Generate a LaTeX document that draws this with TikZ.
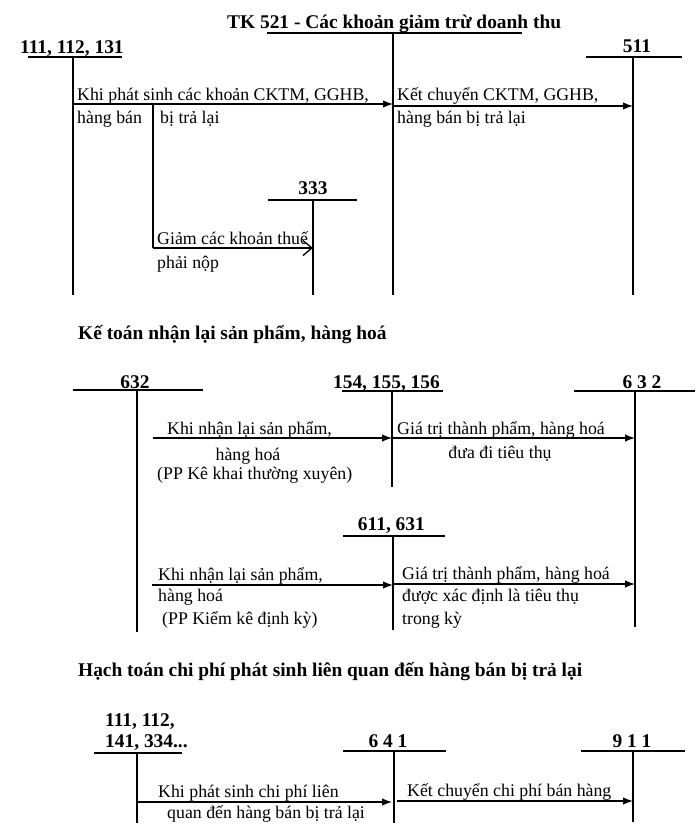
\documentclass[tikz,border=0pt]{standalone}
\usepackage{fontspec}
\setmainfont{Liberation Serif}
\usetikzlibrary{arrows.meta}
\begin{document}
\begin{tikzpicture}[x=1pt,y=-1pt,
  txt/.style={inner sep=0pt,font=\fontsize{17.8}{20}\selectfont},
  lbl/.style={inner sep=0pt,font=\fontsize{19.4}{22}\selectfont\bfseries},
  tline/.style={line width=1.4pt},
  arr/.style={line width=1.3pt,-{Latex[length=10pt,width=7.5pt]}},
  oarr/.style={line width=1.3pt,-{Straight Barb[length=9pt,width=15pt,line width=1.3pt]}}]
\useasboundingbox[fill=white] (0,0) rectangle (698,838);

% ---------- Section 1 ----------
\node[lbl,anchor=base west] (title1) at (227,28) {TK 521 - Các khoản giảm trừ doanh thu};
\node[lbl,anchor=base west] (l111) at (20,53) {111, 112, 131};
\node[lbl,anchor=base] (l511) at (637,52) {511};
\node[lbl,anchor=base] (l333) at (313,194) {333};

\coordinate (a111L) at (28,57);  \coordinate (a111R) at (122,57);
\coordinate (a111T) at (73,57);  \coordinate (a111B) at (73,295);
\coordinate (a521L) at (267,33); \coordinate (a521R) at (522,33);
\coordinate (a521T) at (393,33); \coordinate (a521B) at (393,295);
\coordinate (a511L) at (586,57); \coordinate (a511R) at (682,57);
\coordinate (a511T) at (633,57); \coordinate (a511B) at (633,295);
\coordinate (a333L) at (268,200); \coordinate (a333R) at (357,200);
\coordinate (a333T) at (313,200); \coordinate (a333B) at (313,295);
\draw[tline] (a111L) -- (a111R) (a111T) -- (a111B);
\draw[tline] (a521L) -- (a521R) (a521T) -- (a521B);
\draw[tline] (a511L) -- (a511R) (a511T) -- (a511B);
\draw[tline] (a333L) -- (a333R) (a333T) -- (a333B);

\coordinate (s1) at (73,104);  \coordinate (e1) at (393,104);
\coordinate (s2) at (393,106); \coordinate (e2) at (633,106);
\coordinate (bT) at (153,104); \coordinate (bB) at (153,248);
\coordinate (e3) at (313,248);
\draw[arr] (s1) -- (e1);
\draw[arr] (s2) -- (e2);
\draw[tline] (bT) -- (bB);
\draw[oarr] (bB) -- (e3);

\node[txt,anchor=base west] (t11) at (77,100) {Khi phát sinh các khoản CKTM, GGHB,};
\node[txt,anchor=base west] (t12) at (77,123) {hàng bán};
\node[txt,anchor=base west] (t13) at (160,123) {bị trả lại};
\node[txt,anchor=base west] (t14) at (397,100) {Kết chuyển CKTM, GGHB,};
\node[txt,anchor=base west] (t15) at (397,123) {hàng bán bị trả lại};
\node[txt,anchor=base west] (t16) at (157,244) {Giảm các khoản thuế};
\node[txt,anchor=base west] (t17) at (157,268) {phải nộp};

% ---------- Section 2 ----------
\node[lbl,anchor=base west] (title2) at (78,339) {Kế toán nhận lại sản phẩm, hàng hoá};
\node[lbl,anchor=base] (l632a) at (135,388) {632};
\node[lbl,anchor=base east] (l154) at (440,388) {154, 155, 156};
\node[lbl,anchor=base] (l632b) at (642,388) {6 3 2};
\node[lbl,anchor=base east] (l611) at (425,530) {611, 631};

\coordinate (b632L) at (73,390);  \coordinate (b632R) at (203,390);
\coordinate (b632T) at (137,390); \coordinate (b632B) at (137,632);
\coordinate (b154L) at (342,391); \coordinate (b154R) at (443,391);
\coordinate (b154T) at (392,391); \coordinate (b154B) at (392,487);
\coordinate (c632L) at (574,391); \coordinate (c632R) at (695,391);
\coordinate (c632T) at (635,391); \coordinate (c632B) at (635,627);
\coordinate (b611L) at (343,536); \coordinate (b611R) at (445,536);
\coordinate (b611T) at (393,536); \coordinate (b611B) at (393,630);
\draw[tline] (b632L) -- (b632R) (b632T) -- (b632B);
\draw[tline] (b154L) -- (b154R) (b154T) -- (b154B);
\draw[tline] (c632L) -- (c632R) (c632T) -- (c632B);
\draw[tline] (b611L) -- (b611R) (b611T) -- (b611B);

\coordinate (sA) at (153,438); \coordinate (eA) at (392,438);
\coordinate (eB) at (635,438);
\coordinate (sC) at (152,585); \coordinate (eC) at (393,585);
\coordinate (sD) at (393,584); \coordinate (eD) at (635,584);
\draw[arr] (sA) -- (eA);
\draw[arr] (eA) -- (eB);
\draw[arr] (sC) -- (eC);
\draw[arr] (sD) -- (eD);

\node[txt,anchor=base west] (t21) at (167,434) {Khi nhận lại sản phẩm,};
\node[txt,anchor=base] (t22) at (248,460) {hàng hoá};
\node[txt,anchor=base west] (t23) at (157,479) {(PP Kê khai thường xuyên)};
\node[txt,anchor=base west] (t24) at (397,434) {Giá trị thành phẩm, hàng hoá};
\node[txt,anchor=base] (t25) at (500,458) {đưa đi tiêu thụ};
\node[txt,anchor=base west] (t26) at (158,580) {Khi nhận lại sản phẩm,};
\node[txt,anchor=base west] (t27) at (158,601) {hàng hoá};
\node[txt,anchor=base west] (t28) at (162,624) {(PP Kiểm kê định kỳ)};
\node[txt,anchor=base west] (t29) at (402,579) {Giá trị thành phẩm, hàng hoá};
\node[txt,anchor=base west] (t30) at (402,601) {được xác định là tiêu thụ};
\node[txt,anchor=base west] (t31) at (402,624) {trong kỳ};

% ---------- Section 3 ----------
\node[lbl,anchor=base west] (title3) at (78,676) {Hạch toán chi phí phát sinh liên quan đến hàng bán bị trả lại};
\node[lbl,anchor=base west] (l111b) at (105,726) {111, 112,};
\node[lbl,anchor=base west] (l141) at (105,747) {141, 334...};
\node[lbl,anchor=base] (l641) at (388,747) {6 4 1};
\node[lbl,anchor=base] (l911) at (632,747) {9 1 1};

\coordinate (d111L) at (94,753);  \coordinate (d111R) at (182,753);
\coordinate (d111T) at (137,753); \coordinate (d111B) at (137,823);
\coordinate (d641L) at (343,751); \coordinate (d641R) at (446,751);
\coordinate (d641T) at (394,751); \coordinate (d641B) at (394,823);
\coordinate (d911L) at (581,751); \coordinate (d911R) at (685,751);
\coordinate (d911T) at (633,751); \coordinate (d911B) at (633,822);
\draw[tline] (d111L) -- (d111R) (d111T) -- (d111B);
\draw[tline] (d641L) -- (d641R) (d641T) -- (d641B);
\draw[tline] (d911L) -- (d911R) (d911T) -- (d911B);

\coordinate (sE) at (137,802); \coordinate (eE) at (392,802);
\coordinate (sF) at (397,801); \coordinate (eF) at (633,801);
\draw[arr] (sE) -- (eE);
\draw[arr] (sF) -- (eF);

\node[txt,anchor=base west] (t41) at (158,797) {Khi phát sinh chi phí liên};
\node[txt,anchor=base west] (t42) at (167,818) {quan đến hàng bán bị trả lại};
\node[txt,anchor=base west] (t43) at (407,796) {Kết chuyển chi phí bán hàng};
\end{tikzpicture}
\end{document}
